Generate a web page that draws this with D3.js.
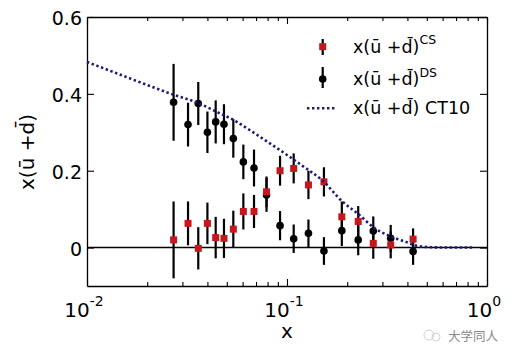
<!DOCTYPE html>
<html>
<head>
<meta charset="utf-8">
<script src="https://cdn.jsdelivr.net/npm/d3@7"></script>
<style>
html,body{margin:0;padding:0;background:#fff;}
svg{display:block;font-family:"DejaVu Sans",sans-serif;}
</style>
</head>
<body>
<svg id="chart" width="512" height="358"></svg>
<script>
// ---- data ----
const xVals  = [0.0271,0.0320,0.0360,0.0400,0.0440,0.0484,0.0539,0.0605,0.0684,0.0790,0.0923,0.108,0.128,0.153,0.188,0.227,0.270,0.330,0.427];
const csVals = [0.020,0.063,-0.002,0.063,0.026,0.024,0.048,0.094,0.094,0.145,0.200,0.206,0.163,0.171,0.080,0.068,0.011,0.007,0.022];
const csErr  = [0.100,0.057,0.055,0.054,0.054,0.051,0.048,0.047,0.043,0.040,0.039,0.039,0.037,0.038,0.040,0.040,0.040,0.035,0.028];
const dsVals = [0.378,0.320,0.375,0.300,0.327,0.321,0.284,0.223,0.207,0.137,0.057,0.023,0.037,-0.009,0.044,0.020,0.043,0.024,-0.010];
const dsErr  = [0.100,0.057,0.056,0.054,0.056,0.052,0.050,0.045,0.048,0.044,0.038,0.037,0.036,0.036,0.040,0.040,0.038,0.035,0.035];
const ct10X  = [0.01,0.015,0.02,0.027,0.036,0.045,0.054,0.065,0.08,0.1,0.12,0.15,0.19,0.23,0.27,0.33,0.4,0.45,0.55,0.7,0.85];
const ct10Y  = [0.483,0.448,0.423,0.398,0.376,0.352,0.332,0.306,0.275,0.241,0.212,0.175,0.119,0.085,0.053,0.029,0.0135,0.004,0.0005,0.0,0.0];
const xMajor = [0.01,0.1,1];
const xMajorExp = ["-2","-1","0"];
const yTicks = [0,0.2,0.4,0.6];
const legendLabels = [["x(ū +d̄)","CS"],["x(ū +d̄)","DS"],["x(ū +d̄) CT10",""]];
const yLabel = "x(ū +d̄)";
const xLabel = "x";
const watermark = "大学同人";

// ---- layout ----
const L=87, R=487, T=17, B=286;
const svg = d3.select("#chart");
const x = d3.scaleLog().domain([0.01,1]).range([L,R]);
const y = d3.scaleLinear().domain([-0.1,0.6]).range([B,T]);
const red = "#c8161d", navy = "#1c1c78";

// minor ticks
const xMinor = [];
[0.01,0.1].forEach(b=>{for(let k=2;k<=9;k++) xMinor.push(b*k);});

function styleAxis(g){
  g.select(".domain").attr("stroke","#000").attr("stroke-width",1.3);
  g.selectAll(".tick line").attr("stroke","#000").attr("stroke-width",1.1);
}
// bottom
svg.append("g").attr("transform",`translate(0,${B})`)
  .call(d3.axisBottom(x).tickValues(xMajor).tickSize(-7).tickSizeOuter(0).tickFormat(""))
  .call(styleAxis);
svg.append("g").attr("transform",`translate(0,${B})`)
  .call(d3.axisBottom(x).tickValues(xMinor).tickSize(-4).tickSizeOuter(0).tickFormat(""))
  .call(g=>g.select(".domain").remove()).call(styleAxis);
// top
svg.append("g").attr("transform",`translate(0,${T})`)
  .call(d3.axisTop(x).tickValues(xMajor).tickSize(-7).tickSizeOuter(0).tickFormat(""))
  .call(styleAxis);
svg.append("g").attr("transform",`translate(0,${T})`)
  .call(d3.axisTop(x).tickValues(xMinor).tickSize(-4).tickSizeOuter(0).tickFormat(""))
  .call(g=>g.select(".domain").remove()).call(styleAxis);
// left
const gy = svg.append("g").attr("transform",`translate(${L},0)`)
  .call(d3.axisLeft(y).tickValues(yTicks).tickSize(-7).tickSizeOuter(0).tickPadding(5)
    .tickFormat(d=>d===0?"0":d3.format(".1f")(d)))
  .call(styleAxis);
gy.selectAll("text").attr("font-size",19).attr("font-family","DejaVu Sans").attr("fill","#000").attr("dy","0.4em");
// right
svg.append("g").attr("transform",`translate(${R},0)`)
  .call(d3.axisRight(y).tickValues(yTicks).tickSize(-7).tickSizeOuter(0).tickFormat(""))
  .call(styleAxis);

// x tick labels with superscripts
xMajor.forEach((v,i)=>{
  const t = svg.append("text").attr("x",x(v)-3).attr("y",316.5)
    .attr("text-anchor","middle").attr("font-size",20).attr("fill","#000");
  t.append("tspan").text("10");
  t.append("tspan").attr("dy",-11).attr("font-size",14).text(xMajorExp[i]);
});

// axis labels
svg.append("text").attr("x",(L+R)/2).attr("y",338).attr("text-anchor","middle")
  .attr("font-size",20).text(xLabel);
svg.append("text").attr("transform",`translate(34,${152}) rotate(-90)`).attr("text-anchor","middle")
  .attr("font-size",20).text(yLabel);

// zero line
svg.append("line").attr("x1",L).attr("x2",R).attr("y1",y(0)).attr("y2",y(0))
  .attr("stroke","#000").attr("stroke-width",1.6);

// error bars + markers
const plot = svg.append("g");
const dsData = xVals.map((v,i)=>({x:v,y:dsVals[i],e:dsErr[i]}));
const csData = xVals.map((v,i)=>({x:v,y:csVals[i],e:csErr[i]}));
function bars(data){
  plot.append("g").selectAll("line").data(data).join("line")
    .attr("x1",d=>x(d.x)).attr("x2",d=>x(d.x))
    .attr("y1",d=>y(d.y+d.e)).attr("y2",d=>y(d.y-d.e))
    .attr("stroke","#000").attr("stroke-width",2.2);
}
bars(dsData); bars(csData);
plot.append("g").selectAll("circle").data(dsData).join("circle")
  .attr("cx",d=>x(d.x)).attr("cy",d=>y(d.y)).attr("r",3.8).attr("fill","#000");
plot.append("g").selectAll("rect").data(csData).join("rect")
  .attr("x",d=>x(d.x)-3.5).attr("y",d=>y(d.y)-3.5).attr("width",7).attr("height",7).attr("fill",red);

// CT10 curve
const line = d3.line().x((d,i)=>x(ct10X[i])).y(d=>y(d)).curve(d3.curveMonotoneX);
svg.append("path").attr("d",line(ct10Y)).attr("fill","none")
  .attr("stroke",navy).attr("stroke-width",2.6).attr("stroke-dasharray","2.4,2.6");

// legend
const lg = svg.append("g");
const rowY = [46.7,79,108.3];
lg.append("line").attr("x1",322.7).attr("x2",322.7).attr("y1",39).attr("y2",55).attr("stroke","#000").attr("stroke-width",2.2);
lg.append("rect").attr("x",319.2).attr("y",rowY[0]-3.5).attr("width",7).attr("height",7).attr("fill",red);
lg.append("line").attr("x1",322.7).attr("x2",322.7).attr("y1",67).attr("y2",88).attr("stroke","#000").attr("stroke-width",2.2);
lg.append("circle").attr("cx",322.7).attr("cy",rowY[1]).attr("r",3.8).attr("fill","#000");
lg.append("line").attr("x1",307).attr("x2",336).attr("y1",rowY[2]).attr("y2",rowY[2])
  .attr("stroke",navy).attr("stroke-width",2.6).attr("stroke-dasharray","2.4,2.6");
legendLabels.forEach((lab,i)=>{
  const t = lg.append("text").attr("x",353).attr("y",rowY[i]+6).attr("font-size",17.5).attr("fill","#000");
  t.append("tspan").text(lab[0]);
  if(lab[1]) t.append("tspan").attr("dy",-8.5).attr("font-size",12.5).text(lab[1]);
});

// watermark
const wm = svg.append("g").attr("opacity",0.55);
wm.append("circle").attr("cx",429).attr("cy",335).attr("r",5).attr("fill","none").attr("stroke","#aaa").attr("stroke-width",1);
wm.append("circle").attr("cx",436).attr("cy",337).attr("r",4).attr("fill","none").attr("stroke","#aaa").attr("stroke-width",1);
svg.append("text").attr("x",448).attr("y",340.5).attr("font-size",12.5)
  .attr("font-family","Noto Sans CJK SC").attr("fill","#8a8a8a").text(watermark);
</script>
</body>
</html>
